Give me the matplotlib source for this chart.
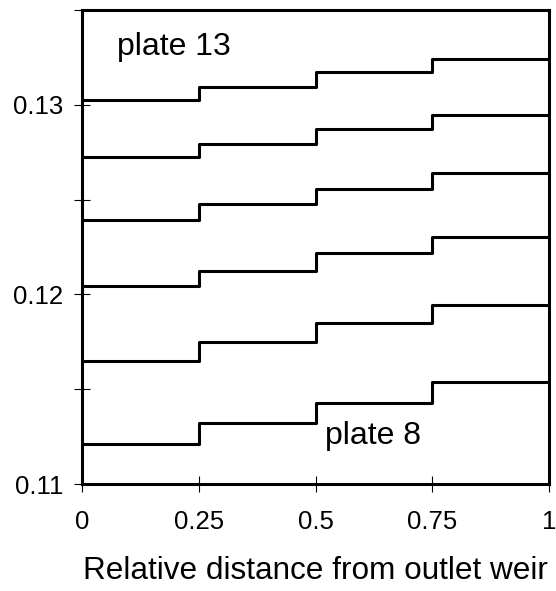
import matplotlib.pyplot as plt

plt.rcParams['font.family'] = ['Liberation Sans', 'DejaVu Sans']

# step edges along the tray (relative distance from outlet weir)
edges = [0, 0.25, 0.5, 0.75, 1.0]

# one list per plate, top (plate 13) to bottom (plate 8), value per quarter
plate13 = [0.13026, 0.13095, 0.13174, 0.13242]
plate12 = [0.12726, 0.12795, 0.12874, 0.12947]
plate11 = [0.12395, 0.12479, 0.12558, 0.12642]
plate10 = [0.12042, 0.12126, 0.12221, 0.12305]
plate9 = [0.11647, 0.11747, 0.11847, 0.11942]
plate8 = [0.11211, 0.11321, 0.11426, 0.11537]

xticks = [0, 0.25, 0.5, 0.75, 1]
xticklabels = ['0', '0.25', '0.5', '0.75', '1']
yticks = [0.11, 0.12, 0.13]
yticklabels = ['0.11', '0.12', '0.13']
yminor = [0.115, 0.125, 0.135]

fig = plt.figure(figsize=(5.56, 5.91), dpi=100)
ax = fig.add_axes([0.1475, 0.181, 0.8399, 0.802])

for vals in [plate13, plate12, plate11, plate10, plate9, plate8]:
    ax.step(edges, vals + [vals[-1]], where='post', color='black', lw=2.2)

ax.set_xlim(0, 1)
ax.set_ylim(0.11, 0.135)
ax.set_xticks(xticks)
ax.set_xticklabels(xticklabels)
ax.set_yticks(yticks)
ax.set_yticklabels(yticklabels)
ax.set_yticks(yminor, minor=True)

ax.tick_params(which='both', direction='inout', length=11.5, width=0.8,
               labelsize=18.5, colors='black')
ax.tick_params(axis='x', pad=13)
ax.tick_params(axis='y', pad=8)
for s in ax.spines.values():
    s.set_linewidth(2.2)

ax.text(0.075, 0.13305, 'plate 13', fontsize=23, va='center', ha='left')
ax.text(0.52, 0.11255, 'plate 8', fontsize=23, va='center', ha='left')

ax.set_xlabel('Relative distance from outlet weir', fontsize=22.7, labelpad=16)

fig.savefig('out.png', dpi=100)
